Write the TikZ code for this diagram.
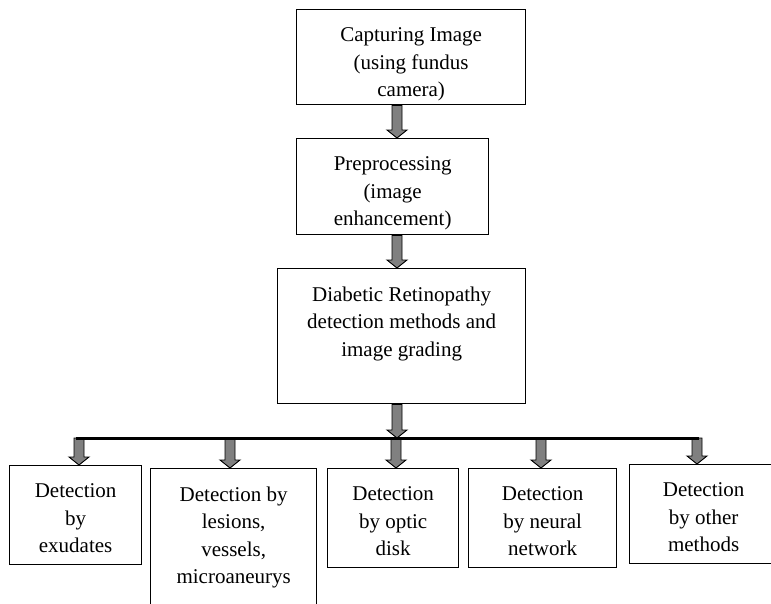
\documentclass[tikz,border=0pt]{standalone}
\usepackage{fontspec}
\setmainfont{Liberation Serif}
\usetikzlibrary{calc}

\tikzset{
  box/.style={draw=black, line width=1.3pt, anchor=north west, inner sep=0pt, fill=white},
  boxtext/.style={anchor=north, yshift=-18.5pt, inner sep=0pt, align=center,
    font=\fontsize{21}{27.5}\selectfont, execute at begin node=\strut},
  arrowfill/.style={fill=black!50, draw=black, line width=0.9pt, line join=miter},
  bus/.style={draw=black, line width=3pt}
}

% downward block arrow from #1 to #2 (tip at #2)
\newcommand\blockarrow[2]{%
  \filldraw[arrowfill] let \p1=(#1), \p2=(#2) in
    (\x1-5pt,\y1) -- (\x1-5pt,\y2+8pt) -- (\x1-10pt,\y2+8pt) -- (\x1,\y2)
    -- (\x1+10pt,\y2+8pt) -- (\x1+5pt,\y2+8pt) -- (\x1+5pt,\y1) -- cycle;}

\begin{document}
\begin{tikzpicture}[x=1pt, y=-1pt]
  \useasboundingbox (0,0) rectangle (771,603);
  \clip (0,0) rectangle (771,603);

  % main pipeline
  \node[box, minimum width=229pt, minimum height=95pt] (cap) at (296,9) {};
  \node[boxtext] (capT) at (cap.north) {Capturing Image\\(using fundus\\camera)};

  \node[box, minimum width=192pt, minimum height=96pt] (pre) at (296,138) {};
  \node[boxtext] (preT) at (pre.north) {Preprocessing\\(image\\enhancement)};

  \node[box, minimum width=248pt, minimum height=135pt] (dr) at (277,268) {};
  \node[boxtext] (drT) at (dr.north) {Diabetic Retinopathy\\detection methods and\\image grading};

  % detection methods
  \node[box, minimum width=132pt, minimum height=99pt] (exu) at (9,465) {};
  \node[boxtext] (exuT) at (exu.north) {Detection\\by\\exudates};

  \node[box, minimum width=166pt, minimum height=150pt] (les) at (150,468) {};
  \node[boxtext] (lesT) at (les.north) {Detection by\\lesions,\\vessels,\\microaneurys};

  \node[box, minimum width=131pt, minimum height=99pt] (opt) at (327,468) {};
  \node[boxtext] (optT) at (opt.north) {Detection\\by optic\\disk};

  \node[box, minimum width=148pt, minimum height=99pt] (neu) at (468,468) {};
  \node[boxtext] (neuT) at (neu.north) {Detection\\by neural\\network};

  \node[box, minimum width=148pt, minimum height=99pt] (oth) at (629,464) {};
  \node[boxtext] (othT) at (oth.north) {Detection\\by other\\methods};

  % bus junctions
  \coordinate (hub) at (397,438);
  \coordinate (busL) at (76,438);
  \coordinate (busR) at (699,438);
  \coordinate (j1) at (79,438);
  \coordinate (j2) at (230,438);
  \coordinate (j3) at (396,438);
  \coordinate (j4) at (541,438);
  \coordinate (j5) at (697,438);

  % arrows
  \blockarrow{cap.south -| hub}{pre.north -| hub}
  \blockarrow{pre.south -| hub}{dr.north -| hub}
  \blockarrow{dr.south -| hub}{hub}
  \blockarrow{j1}{exu.north -| j1}
  \blockarrow{j2}{les.north -| j2}
  \blockarrow{j3}{opt.north -| j3}
  \blockarrow{j4}{neu.north -| j4}
  \blockarrow{j5}{oth.north -| j5}

  \draw[bus] (busL) -- (busR);
\end{tikzpicture}
\end{document}
